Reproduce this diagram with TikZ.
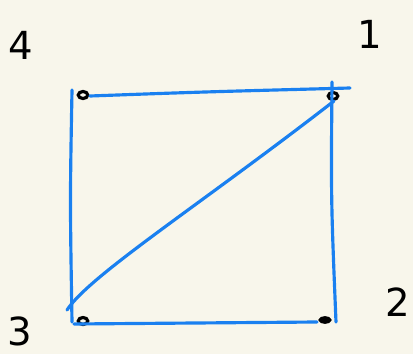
\documentclass[tikz,border=0pt]{standalone}
\usepackage{fontspec}
\setsansfont{DejaVu Sans}
\usetikzlibrary{positioning,shapes.geometric}
\definecolor{paper}{HTML}{F8F6EB}
\definecolor{pen}{HTML}{1A80F0}
\tikzset{
  edge/.style={draw=pen, line width=1.8pt, line cap=round},
  pt/.style={ellipse, draw=black, line width=1.8pt, inner sep=0pt,
             minimum width=1.9mm, minimum height=1.4mm},
  num/.style={font=\sffamily\fontsize{22}{22}\selectfont, inner sep=0pt},
}
\begin{document}
\begin{tikzpicture}[x=0.2mm,y=-0.2mm]
\fill[paper] (0,0) rectangle (413,354);
\useasboundingbox (0,0) rectangle (413,354);
% corner marks
\node[pt] (v4) at (83,95) {};
\node[pt] (v1) at (333,96) {};
\node[pt] (v3) at (83,321) {};
\node[pt, fill=black, minimum height=0.9mm] (v2) at (325,320) {};
% labels
\node[num] (l4) at (21,45) {4};
\node[num] (l1) at (370,34) {1};
\node[num] (l3) at (20,331) {3};
\node[num] (l2) at (398,302) {2};
% pen strokes
\coordinate (a1) at (90,96);
\coordinate (a2) at (350,88);
\coordinate (b1) at (72,90);
\coordinate (b2) at (72,322);
\coordinate (c1) at (332,82);
\coordinate (c2) at (336,322);
\coordinate (d1) at (74,324);
\coordinate (d2) at (317,322);
\coordinate (e1) at (67,310);
\coordinate (e2) at (334,101);
\draw[edge] (a1) .. controls (200,92) .. (a2);
\draw[edge] (b1) .. controls (70,200) .. (b2);
\draw[edge] (c1) .. controls (331,200) .. (c2);
\draw[edge] (d1) -- (d2);
\draw[edge] (e1) .. controls (90,275) and (200,205) .. (e2);
\end{tikzpicture}
\end{document}
